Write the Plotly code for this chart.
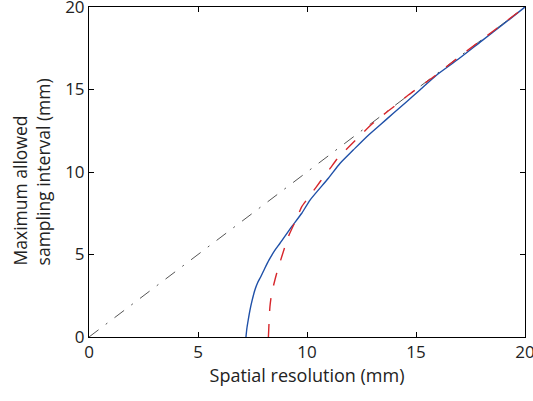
import plotly.graph_objects as go

diag_x = [0, 20]
diag_y = [0, 20]

blue_x = [7.2, 7.24, 7.3, 7.38, 7.48, 7.61, 7.74, 7.88, 8.06, 8.26, 8.5, 8.76, 9.3, 9.76, 10.14, 10.98,
          11.51, 12.12, 12.74, 13.35, 13.96, 14.57, 15.18, 15.95, 16.9, 18.0, 19.0, 20.0]
blue_y = [0, 0.5, 1.0, 1.6, 2.2, 2.85, 3.3, 3.65, 4.15, 4.67, 5.2, 5.68, 6.69, 7.5, 8.3, 9.62,
          10.52, 11.33, 12.14, 12.85, 13.56, 14.26, 14.97, 15.88, 16.8, 17.93, 18.95, 20.0]

red_x = [8.23, 8.26, 8.3, 8.38, 8.61, 8.84, 9.14, 9.53, 9.76, 10.21, 10.6, 11.06, 11.44, 11.97, 12.43,
         12.97, 13.43, 14.04, 14.65, 15.18, 15.72, 17.0, 18.5, 20.0]
red_y = [0, 0.9, 1.84, 2.65, 3.86, 4.86, 6.07, 7.19, 7.9, 8.7, 9.41, 10.22, 10.89, 11.59, 12.2,
         12.89, 13.39, 14.02, 14.67, 15.17, 15.68, 17.0, 18.5, 20.0]

tick_vals = [0, 5, 10, 15, 20]

fig = go.Figure()
fig.add_trace(go.Scatter(x=diag_x, y=diag_y, mode="lines",
                         line=dict(color="#555555", width=1, dash="12px,9px,2px,9px")))
fig.add_trace(go.Scatter(x=blue_x, y=blue_y, mode="lines", line_shape="spline",
                         line=dict(color="#1f50a8", width=1.4, smoothing=0.6)))
fig.add_trace(go.Scatter(x=red_x, y=red_y, mode="lines", line_shape="spline",
                         line=dict(color="#d7262b", width=1.4, dash="13px,13px", smoothing=0.6)))

font = dict(family="Open Sans, sans-serif", size=17, color="#222222")
axis = dict(range=[0, 20], tickvals=tick_vals, ticktext=[str(v) for v in tick_vals],
            ticks="inside", ticklen=5, tickcolor="black", ticklabeloverflow="allow",
            showline=True, linecolor="black", linewidth=1, mirror="ticks", showgrid=False,
            zeroline=False, tickfont=font, automargin=False)

fig.update_layout(
    width=533, height=401, margin=dict(l=89, r=8, t=7, b=64),
    plot_bgcolor="white", paper_bgcolor="white", showlegend=False,
    xaxis=dict(axis, title=dict(text="Spatial resolution (mm)", font=dict(font, size=18), standoff=6)),
    yaxis=dict(axis),
    annotations=[dict(text="Maximum allowed<br>sampling interval (mm)", textangle=-90,
                      xref="paper", yref="paper", x=-0.131, y=0.212, xanchor="center",
                      yanchor="bottom", align="left", showarrow=False, font=dict(font, size=17.5))],
)

fig.write_html("out.html", config={"displayModeBar": False},
               post_script="document.body.style.margin='0px';")
